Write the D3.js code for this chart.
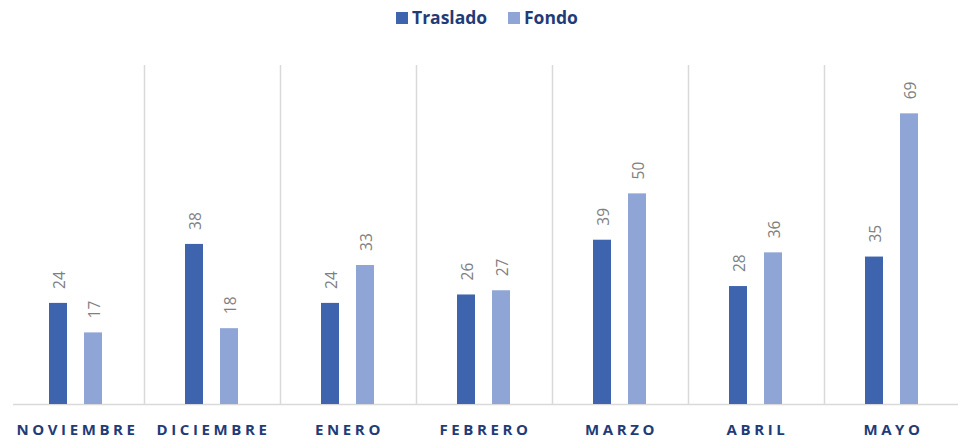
<!DOCTYPE html>
<html>
<head>
<meta charset="utf-8">
<script src="https://cdn.jsdelivr.net/npm/d3@7"></script>
<style>
  body { margin: 0; background: #fff; }
  svg { display: block; }
</style>
</head>
<body>
<svg id="chart"></svg>
<script>
const months = ['NOVIEMBRE', 'DICIEMBRE', 'ENERO', 'FEBRERO', 'MARZO', 'ABRIL', 'MAYO']
const traslado = [24, 38, 24, 26, 39, 28, 35]
const fondo = [17, 18, 33, 27, 50, 36, 69]
const seriesNames = ['Traslado', 'Fondo']
const colors = ['#3d64ad', '#8fa5d6']

const width = 958
const height = 440
const margin = { top: 67, right: 0, bottom: 36, left: 8 }
const innerW = 952
const innerH = height - margin.top - margin.bottom

const svg = d3.select('#chart')
  .attr('width', width)
  .attr('height', height)

const g = svg.append('g')
  .attr('transform', 'translate(' + margin.left + ',' + margin.top + ')')

const x = d3.scaleBand()
  .domain(months)
  .range([0, innerW])

// bars sit inside each category band
const x1 = d3.scaleBand()
  .domain(seriesNames)
  .range([41, 94])
  .paddingInner(0.486)
  .paddingOuter(0)

const y = d3.scaleLinear()
  .domain([0, 80])
  .range([innerH, 0])

// separators between categories
g.append('g')
  .selectAll('line')
  .data(months.slice(1))
  .enter()
  .append('line')
  .attr('x1', d => Math.round(x(d)) + 0.5)
  .attr('x2', d => Math.round(x(d)) + 0.5)
  .attr('y1', -2)
  .attr('y2', innerH)
  .attr('stroke', '#d9d9d9')
  .attr('stroke-width', 1.5)

// base axis line
g.append('line')
  .attr('x1', 5)
  .attr('x2', innerW)
  .attr('y1', innerH + 0.5)
  .attr('y2', innerH + 0.5)
  .attr('stroke', '#d9d9d9')
  .attr('stroke-width', 1.5)

const rows = months.map((m, i) => ({ month: m, values: [traslado[i], fondo[i]] }))

const groups = g.selectAll('.grp')
  .data(rows)
  .enter()
  .append('g')
  .attr('class', 'grp')
  .attr('transform', d => 'translate(' + x(d.month) + ',0)')

groups.selectAll('rect')
  .data(d => d.values.map((v, k) => ({ key: seriesNames[k], v, k })))
  .enter()
  .append('rect')
  .attr('x', d => x1(d.key))
  .attr('width', x1.bandwidth())
  .attr('y', d => y(d.v))
  .attr('height', d => innerH - y(d.v))
  .attr('fill', d => colors[d.k])

// rotated value labels
groups.selectAll('text')
  .data(d => d.values.map((v, k) => ({ key: seriesNames[k], v, k })))
  .enter()
  .append('text')
  .attr('transform', d => 'translate(' + (x1(d.key) + x1.bandwidth() / 2 + 2) + ',' + (y(d.v) - 14) + ') rotate(-90)')
  .attr('dy', '0.35em')
  .attr('text-anchor', 'start')
  .attr('fill', '#808080')
  .attr('font-family', 'Open Sans, sans-serif')
  .attr('font-size', '15.5px')
  .text(d => d.v)

// x axis labels
g.append('g')
  .selectAll('text')
  .data(months)
  .enter()
  .append('text')
  .attr('x', d => x(d) + x.bandwidth() / 2 + 1.5)
  .attr('y', innerH + 31)
  .attr('text-anchor', 'middle')
  .attr('fill', '#1f3c78')
  .attr('font-family', 'Open Sans, sans-serif')
  .attr('font-weight', '700')
  .attr('font-size', '15px')
  .attr('letter-spacing', '3.6px')
  .text(d => d)

// legend
const legend = svg.append('g').attr('class', 'legend')
const legendItems = [{ name: 'Traslado', x: 396 }, { name: 'Fondo', x: 508 }]
legendItems.forEach((it, i) => {
  legend.append('rect')
    .attr('x', it.x)
    .attr('y', 12)
    .attr('width', 12)
    .attr('height', 12)
    .attr('fill', colors[i])
  legend.append('text')
    .attr('x', it.x + 16)
    .attr('y', 24)
    .attr('fill', '#1f3c78')
    .attr('font-family', 'Open Sans, sans-serif')
    .attr('font-weight', '700')
    .attr('font-size', '17.5px')
    .text(it.name)
})
</script>
</body>
</html>
